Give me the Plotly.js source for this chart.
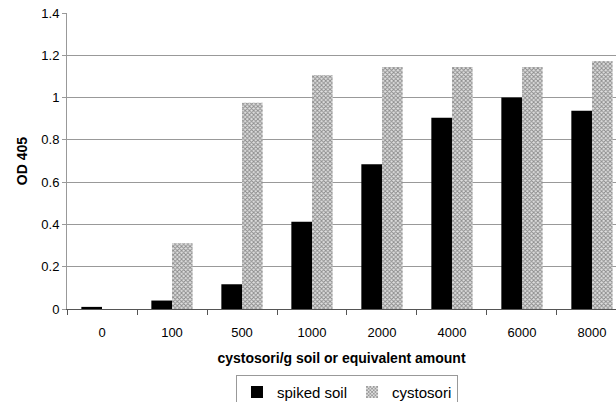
<!DOCTYPE html>
<html><head><meta charset="utf-8">
<script src="https://cdn.plot.ly/plotly-3.0.1.min.js"></script>
<style>html,body{margin:0;padding:0;background:#fff}#c{width:616px;height:402px}</style>
</head><body><div id="c"></div>
<script>
const categories = ['0','100','500','1000','2000','4000','6000','8000'];
const spikedSoil = [0.01, 0.04, 0.117, 0.413, 0.685, 0.905, 1.0, 0.938];
const cystosori = [null, 0.311, 0.975, 1.105, 1.145, 1.145, 1.145, 1.173];
const yTicks = [0, 0.2, 0.4, 0.6, 0.8, 1, 1.2, 1.4];

const traces = [
  {type:'bar', name:'spiked soil', x:categories, y:spikedSoil,
   marker:{color:'#000000', line:{width:0}}},
  {type:'bar', name:'cystosori', x:categories, y:cystosori,
   marker:{color:'#c8c8c8', line:{width:0},
     pattern:{shape:'x', fgcolor:'#8a8a8a', bgcolor:'#e0e0e0', size:3, solidity:0.5}}}
];
const layout = {
  width:616, height:402,
  margin:{l:67, r:0, t:13, b:93, autoexpand:false},
  paper_bgcolor:'#fff', plot_bgcolor:'#fff',
  font:{family:'Liberation Sans, Arial, sans-serif', size:13, color:'#000'},
  barmode:'group', bargap:0.41, bargroupgap:0,
  showlegend:true,
  legend:{orientation:'h', x:0.51, xanchor:'center', y:-0.222, yanchor:'top',
    bordercolor:'#999', borderwidth:1, font:{size:15}, itemwidth:30, traceorder:'normal',
    tracegroupgap:0, itemclick:false},
  xaxis:{type:'category', range:[-0.5, 7.343], tickson:'boundaries', ticks:'outside', ticklen:5,
    tickcolor:'#555', showline:true, linecolor:'#555', linewidth:1, showgrid:false,
    tickfont:{size:13}, ticklabelstandoff:11, fixedrange:true,
    title:{text:'cystosori/g soil or equivalent amount', font:{size:14, weight:'bold'}, standoff:14}},
  yaxis:{range:[0,1.4], tickvals:yTicks, ticks:'outside', ticklen:4, tickcolor:'#999',
    showline:true, linecolor:'#999', linewidth:1, showgrid:true, gridcolor:'#999', gridwidth:1,
    zeroline:false, tickfont:{size:13}, fixedrange:true,
    title:{text:'OD 405', font:{size:14, weight:'bold'}, standoff:10}}
};
Plotly.newPlot('c', traces, layout, {displayModeBar:false, staticPlot:true});
</script></body></html>
